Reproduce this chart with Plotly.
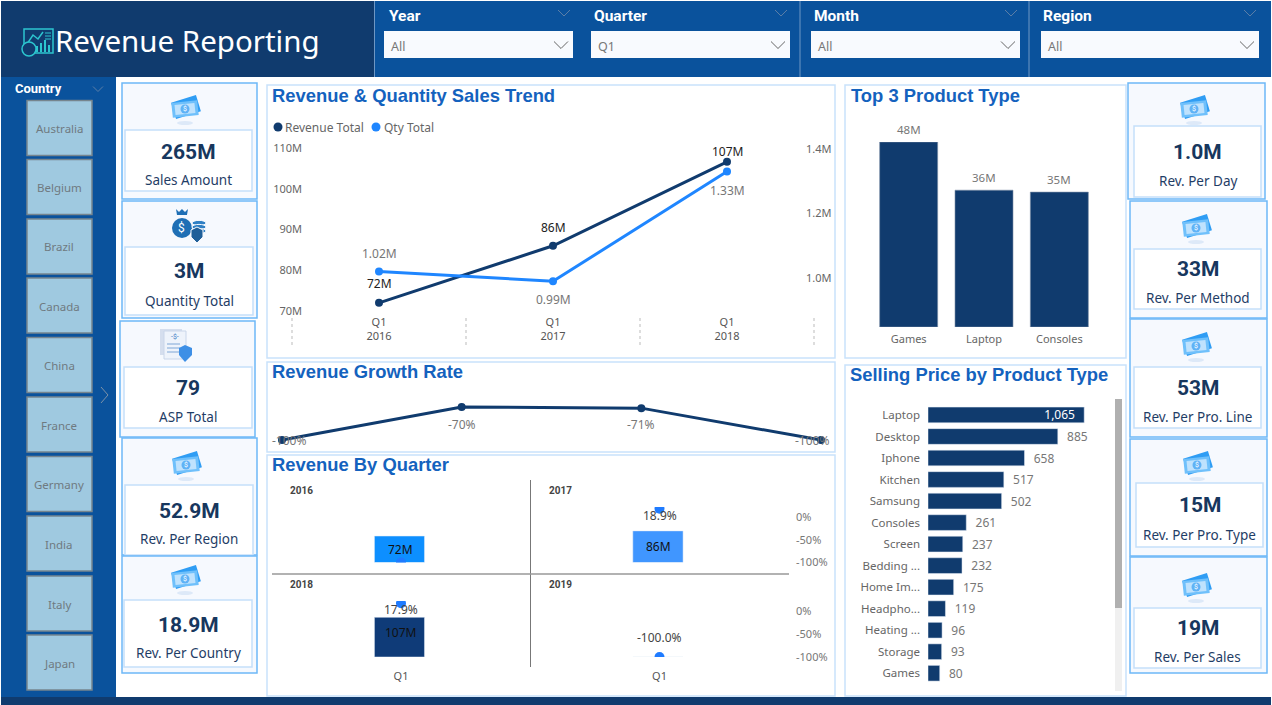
import math
import plotly.graph_objects as go

# ---------- data ----------
countries = ["Australia", "Belgium", "Brazil", "Canada", "China", "France", "Germany", "India", "Italy", "Japan"]
filter_names = ["Year", "Quarter", "Month", "Region"]
filter_values = ["All", "Q1", "All", "All"]
kpi_left_values = ["265M", "3M", "79", "52.9M", "18.9M"]
kpi_left_names = ["Sales Amount", "Quantity Total", "ASP Total", "Rev. Per Region", "Rev. Per Country"]
kpi_right_values = ["1.0M", "33M", "53M", "15M", "19M"]
kpi_right_names = ["Rev. Per Day", "Rev. Per Method", "Rev. Per Pro. Line", "Rev. Per Pro. Type", "Rev. Per Sales"]

trend_periods = ["Q1<br>2016", "Q1<br>2017", "Q1<br>2018"]
trend_revenue = [72, 86, 106.6]
trend_qty = [1.02, 0.99, 1.33]
left_ticks = [70, 80, 90, 100, 110]
right_ticks = [1.0, 1.2, 1.4]

growth_years = ["2016", "2017", "2018", "2019"]
growth_rate = [-100, -70, -71, -100]

quarter_years = ["2016", "2017", "2018", "2019"]
quarter_revenue = [72, 86, 107, 0]
quarter_change = [-100, 18.9, 17.9, -100]
quarter_colors = ["#0D8FFF", "#4096FF", "#0F3B78", "#0F3B78"]

top3_types = ["Games", "Laptop", "Consoles"]
top3_values = [48, 35.5, 35]
top3_labels = ["48M", "36M", "35M"]

price_types = ["Laptop", "Desktop", "Iphone", "Kitchen", "Samsung", "Consoles", "Screen",
               "Bedding ...", "Home Im...", "Headpho...", "Heating ...", "Storage", "Games"]
price_values = [1065, 885, 658, 517, 502, 261, 237, 232, 175, 119, 96, 93, 80]

# ---------- palette / helpers ----------
W, H = 1272, 705
NAVY = "#103B6E"
BLUE = "#0A529C"
QTY = "#1F86FF"
TITLE = "#1462BE"
GRAY = "#666666"
BODY = "Noto Sans"
BOLD = "Roboto"
HEAD = "Liberation Sans"
NARROW = "Liberation Sans Narrow, Roboto"


def fx(x):
    return x / W


def fy(y):
    return 1 - y / H


def dx(a, b):
    return [a / W, b / W]


def dy(top, bottom):
    return [1 - bottom / H, 1 - top / H]


shapes = []
notes = []


def rect(x0, y0, x1, y1, fill=None, line=None, lw=1):
    shapes.append(dict(type="rect", xref="paper", yref="paper", x0=fx(x0), x1=fx(x1), y0=fy(y1), y1=fy(y0),
                       fillcolor=fill or "rgba(0,0,0,0)", line=dict(color=line or "rgba(0,0,0,0)", width=lw if line else 0),
                       layer="below"))


def oval(cx, cy, rx, ry, fill=None, line=None, lw=1):
    shapes.append(dict(type="circle", xref="paper", yref="paper", x0=fx(cx - rx), x1=fx(cx + rx), y0=fy(cy + ry), y1=fy(cy - ry),
                       fillcolor=fill or "rgba(0,0,0,0)", line=dict(color=line or "rgba(0,0,0,0)", width=lw if line else 0),
                       layer="below"))


def poly(points, fill=None, line=None, lw=1, close=True, dash=None):
    d = "M " + " L ".join(f"{fx(a):.5f},{fy(b):.5f}" for a, b in points) + (" Z" if close else "")
    ln = dict(color=line or "rgba(0,0,0,0)", width=lw if line else 0)
    if dash:
        ln["dash"] = dash
    shapes.append(dict(type="path", xref="paper", yref="paper", path=d,
                       fillcolor=fill or "rgba(0,0,0,0)", line=ln, layer="below"))


def seg(x0, y0, x1, y1, color, lw=1, dash=None):
    ln = dict(color=color, width=lw)
    if dash:
        ln["dash"] = dash
    shapes.append(dict(type="line", xref="paper", yref="paper", x0=fx(x0), x1=fx(x1), y0=fy(y0), y1=fy(y1), line=ln, layer="below"))


def chevron(cx, cy, w, h, color, lw=1):
    poly([(cx - w, cy - h), (cx, cy + h), (cx + w, cy - h)], line=color, lw=lw, close=False)


def note(text, x, y, size, color, family=BODY, anchor="center"):
    notes.append(dict(text=text, x=fx(x), y=fy(y), xref="paper", yref="paper", showarrow=False, xanchor=anchor,
                      yanchor="middle", font=dict(size=size, color=color, family=family), borderpad=0))


def tilted(cx, cy, w, h, deg):
    a = math.radians(deg)
    pts = []
    for sx, sy in [(-1, -1), (1, -1), (1, 1), (-1, 1)]:
        px, py = sx * w / 2, sy * h / 2
        pts.append((cx + px * math.cos(a) - py * math.sin(a), cy + px * math.sin(a) + py * math.cos(a)))
    return pts


def money(cx, cy):
    oval(cx, cy + 15, 8, 2, fill="#DDE9F8")
    poly(tilted(cx + 1, cy - 1, 26, 17, -17), fill="#2F9DF4")
    poly(tilted(cx, cy + 1, 26, 15, -6), fill="#6FC0FB")
    poly(tilted(cx, cy + 1, 20, 10, -6), fill="#BFE2FD")
    oval(cx, cy + 1, 4.5, 4.5, fill="#5FB2F6")
    note("$", cx, cy + 1, 7, "#FFFFFF", BOLD)


def bag(cx, cy):
    # cx, cy is the centre of the whole icon
    oval(cx - 8, cy + 2, 10, 10, fill="#1F6FB5")
    poly([(cx - 14, cy - 17), (cx - 11, cy - 14), (cx - 8, cy - 17), (cx - 5, cy - 14), (cx - 2, cy - 17),
          (cx - 3, cy - 11), (cx - 13, cy - 11)], fill="#1F6FB5")
    note("$", cx - 9, cy + 2, 12, "#FFFFFF", BOLD)
    for i in range(3):
        oval(cx + 9, cy - 3 + i * 4, 7, 2.6, fill="#2F80C4", line="#F6F9FE")
    poly([(cx + 1, cy + 4), (cx + 7, cy + 1), (cx + 13, cy + 4), (cx + 13, cy + 11), (cx + 7, cy + 17), (cx + 1, cy + 11)],
         fill="#1F5F99", line="#F6F9FE")


def document(cx, cy):
    rect(cx - 16, cy - 16, cx + 6, cy + 10, fill="#D5DEEE")
    rect(cx - 12, cy - 14, cx + 10, cy + 14, fill="#EEF3FB", line="#C9D6EA")
    note("-$-", cx - 1, cy - 8, 7, "#3F7CC4", BOLD)
    for i in range(3):
        seg(cx - 9, cy - 1 + i * 4, cx + 4, cy - 1 + i * 4, "#7FA6D6", 1)
    poly([(cx + 3, cy + 3), (cx + 9, cy), (cx + 16, cy + 3), (cx + 16, cy + 10), (cx + 9, cy + 17), (cx + 3, cy + 10)], fill="#3D8FE6")


def logo():
    c = "#2CC5CF"
    poly([(24, 29), (53, 29), (53, 53), (24, 53)], line=c, lw=1.5)
    poly([(27, 44), (33, 35), (38, 39), (43, 32)], line=c, lw=1.5, close=False)
    for a, b in [(37, 46), (41, 43), (45, 40), (49, 45)]:
        seg(a, 52, a, b, c, 2)
    oval(29, 49, 7, 7, fill=NAVY, line=c, lw=1.5)
    for i in range(3):
        seg(45, 33 + i * 3, 51, 33 + i * 3, c, 1)


# ---------- page chrome ----------
rect(1, 1, 375, 77, fill=NAVY)
rect(375, 1, 1271, 77, fill=BLUE)
rect(1, 77, 116, 697, fill=BLUE)
rect(1, 697, 1271, 705, fill=NAVY)
for x in (374.5, 800, 1029):
    seg(x, 1, x, 77, "#6E97C4", 1)
logo()
note("Revenue Reporting", 54, 41, 29.5, "#FFFFFF", BODY, "left")

filter_label_x = [388, 593, 813, 1042]
filter_box = [(384, 573), (591, 790), (811, 1020), (1041, 1259)]
for name, value, lx, (b0, b1) in zip(filter_names, filter_values, filter_label_x, filter_box):
    note(f"<b>{name}</b>", lx, 16, 15.5, "#FFFFFF", NARROW, "left")
    rect(b0, 31, b1, 58, fill="#F8FAFE")
    note(value, b0 + 6, 46.5, 12.5, "#777777", BODY, "left")
    chevron(b1 - 12, 45, 7, 3.5, "#666666", 1)
    chevron(b1 - 9, 13, 6, 3, "#5C7FA8", 1)

note("<b>Country</b>", 14, 89, 13, "#FFFFFF", NARROW, "left")
chevron(98, 89, 5, 2.5, "#5C7FA8", 1)
tile_tops = [100.5, 159.5, 219, 278, 337.5, 397, 456.5, 516, 576, 635]
for name, t in zip(countries, tile_tops):
    rect(27, t, 92, t + 55, fill="#9FC9E0", line="#76858E", lw=1.5)
    note(name, 59.5, t + 28, 11.5, "#6F7A80")
poly([(101, 387), (108, 395), (101, 403)], line="#7F93A8", lw=1, close=False)

# ---------- KPI tiles ----------
left_boxes = [(122, 83, 257, 199, 125, 130, 252, 191, 152, 180, 185, 108),
              (122, 201, 257, 318, 125, 247, 253, 315, 271, 301, 190, 226),
              (120, 321, 255, 437, 124, 367, 252, 428, 388, 417, 176, 345),
              (122, 438, 257, 555, 125, 485, 253, 555, 511, 539, 186, 464),
              (122, 556, 257, 673, 124, 600, 252, 667, 625, 653, 185, 578)]
right_boxes = [(1128, 83, 1265, 199, 1134, 126, 1261, 197, 152, 181, 1194, 108),
               (1130, 201, 1267, 318, 1134, 249, 1261, 309, 269, 298, 1196, 227),
               (1130, 319, 1267, 437, 1134, 367, 1261, 428, 388, 417, 1196, 345),
               (1130, 439, 1267, 556, 1136, 483, 1263, 547, 505, 535, 1197, 464),
               (1130, 557, 1267, 673, 1134, 608, 1261, 668, 628, 657, 1196, 586)]
all_values = kpi_left_values + kpi_right_values
all_names = kpi_left_names + kpi_right_names
for i, (value, name, b) in enumerate(zip(all_values, all_names, left_boxes + right_boxes)):
    x0, y0, x1, y1, ix0, iy0, ix1, iy1, vy, ly, icx, icy = b
    rect(x0, y0, x1, y1, fill="#F6F9FE", line="#6DB8F7", lw=1.5)
    rect(ix0, iy0, ix1, iy1, fill="#FFFFFF", line="#C5E0FA", lw=1.5)
    cx = (ix0 + ix1) / 2
    note(f"<b>{value}</b>", cx, vy, 21, "#17375E", NARROW)
    note(name, cx, ly, 13.5, "#1F3D66", BODY)
    if i == 1:
        bag(icx, icy)
    elif i == 2:
        document(icx, icy)
    else:
        money(icx, icy)

# ---------- chart panels ----------
PANEL = "#C9E2FB"
for x0, y0, x1, y1 in [(267, 85, 835, 358), (845, 85, 1126, 358), (267, 362, 835, 452), (267, 455, 835, 696), (845, 365, 1126, 696)]:
    rect(x0, y0, x1, y1, fill="#FFFFFF", line=PANEL, lw=1.5)
note("<b>Revenue &amp; Quantity Sales Trend</b>", 271, 96, 18.4, TITLE, HEAD, "left")
note("<b>Top 3 Product Type</b>", 850, 96, 18.4, TITLE, HEAD, "left")
note("<b>Revenue Growth Rate</b>", 271, 371, 18.4, TITLE, HEAD, "left")
note("<b>Revenue By Quarter</b>", 271, 465, 18.4, TITLE, HEAD, "left")
note("<b>Selling Price by Product Type</b>", 849, 374, 18.4, TITLE, HEAD, "left")

# legend keys of the trend chart
oval(278, 127, 4.5, 4.5, fill=NAVY)
note("Revenue Total", 284, 127, 12, GRAY, BODY, "left")
oval(376, 127, 4.5, 4.5, fill=QTY)
note("Qty Total", 383, 127, 12, GRAY, BODY, "left")
for x in (292, 466, 640, 814):
    seg(x, 318, x, 346, "#BBBBBB", 1, "dot")

# scroll bar of the price chart
rect(1115, 399, 1122, 691, fill="#F0F0F0")
rect(1115, 399, 1122, 608, fill="#B0B0B0")

# small-multiple separators
seg(530.5, 480, 530.5, 667, "#777777", 1)
seg(272, 574, 789, 574, "#999999", 1.5)

fig = go.Figure()
axes = {}


def hidden(**kw):
    d = dict(visible=False, fixedrange=True, showgrid=False, zeroline=False)
    d.update(kw)
    return d


# --- trend ---
axes["xaxis"] = dict(domain=dx(292, 814), range=[-0.5, 2.5], type="category", categoryorder="array", categoryarray=trend_periods,
                     showgrid=False, zeroline=False, showline=False, ticks="", anchor="y", ticklabelstandoff=3,
                     tickfont=dict(size=11, color="#555555", family=BODY))
axes["yaxis"] = dict(domain=dy(148, 311), range=[70, 110], tickvals=left_ticks, ticktext=[f"{v}M" for v in left_ticks],
                     showgrid=False, zeroline=False, anchor="free", position=fx(302),
                     tickfont=dict(size=11, color=GRAY, family=BODY))
axes["yaxis2"] = dict(domain=dy(148, 311), range=[0.8977, 1.4031], tickvals=right_ticks, ticktext=[f"{v:.1f}M" for v in right_ticks],
                      showgrid=False, zeroline=False, side="right", anchor="free", position=fx(805), overlaying="y",
                      tickfont=dict(size=11, color=GRAY, family=BODY))
fig.add_trace(go.Scatter(x=trend_periods, y=trend_revenue, mode="lines+markers", name="Revenue Total", xaxis="x", yaxis="y",
                         line=dict(color=NAVY, width=3), marker=dict(size=8, color=NAVY), cliponaxis=False))
fig.add_trace(go.Scatter(x=trend_periods, y=trend_qty, mode="lines+markers", name="Qty Total", xaxis="x", yaxis="y2",
                         line=dict(color=QTY, width=3), marker=dict(size=8, color=QTY), cliponaxis=False))
for cat, v, sh in zip(trend_periods, trend_revenue, (19, 18, 10)):
    notes.append(dict(text=f"{v:.0f}M", x=cat, y=v, xref="x", yref="y", yshift=sh, showarrow=False,
                      font=dict(size=12, color="#222222", family=BODY)))
for cat, v, sh in zip(trend_periods, trend_qty, (18, -18, -19)):
    notes.append(dict(text=f"{v:.2f}M", x=cat, y=v, xref="x", yref="y2", yshift=sh, showarrow=False,
                      font=dict(size=12, color="#777777", family=BODY)))

# --- growth ---
axes["xaxis2"] = hidden(domain=dx(273, 830), range=[-0.05, 3.05], type="category", categoryorder="array",
                        categoryarray=growth_years, anchor="y3")
axes["yaxis3"] = hidden(domain=dy(400, 445), range=[-104.5, -63.6], anchor="x2")
fig.add_trace(go.Scatter(x=growth_years, y=growth_rate, mode="lines+markers", name="Growth", xaxis="x2", yaxis="y3",
                         line=dict(color=NAVY, width=3), marker=dict(size=8, color=NAVY), cliponaxis=False))
for idx, v, sx, sy in zip(range(len(growth_years)), growth_rate, (7, 0, 0, -9), (0, -17, -16, 0)):
    notes.append(dict(text=f"{v}%", x=idx, y=v, xref="x2", yref="y3", xshift=sx, yshift=sy, showarrow=False,
                      font=dict(size=12, color="#777777", family=BODY)))

# --- revenue by quarter (four small multiples) ---
panels = [((272, 530), (507, 562.5), 3, 4), ((530, 789), (507, 562.5), 4, 6), ((272, 530), (601, 657), 5, 8), ((530, 789), (601, 657), 6, 10)]
label_shift = [None, -7, -6, 20]
for i, (xd, yd, xn, yn) in enumerate(panels):
    bottom_row = i >= 2
    right_col = i % 2 == 1
    xname, ybar, ypct = f"x{xn}", f"y{yn}", f"y{yn + 1}"
    axes[f"xaxis{xn}"] = dict(domain=dx(*xd), type="category", range=[-0.5, 0.5], anchor=ybar, showgrid=False, zeroline=False, ticks="",
                              showticklabels=bottom_row, ticklabelstandoff=11, tickfont=dict(size=11, color="#555555", family=BODY))
    axes[f"yaxis{yn}"] = hidden(domain=dy(*yd), range=[0, 151], anchor=xname)
    axes[f"yaxis{yn + 1}"] = dict(domain=dy(*yd), range=[-100, 22.6], overlaying=ybar, showgrid=False, zeroline=False,
                                  visible=right_col, side="right", anchor="free", position=fx(793),
                                  tickvals=[0, -50, -100], ticktext=["0%", "-50%", "-100%"], ticklabelstandoff=2,
                                  tickfont=dict(size=11, color="#777777", family=BODY))
    fig.add_trace(go.Bar(x=["Q1"], y=[quarter_revenue[i]], width=[0.194], offset=-0.103, xaxis=xname, yaxis=ybar, name=quarter_years[i],
                         marker=dict(color=quarter_colors[i])))
    fig.add_trace(go.Scatter(x=["Q1"], y=[quarter_change[i]], mode="markers", xaxis=xname, yaxis=ypct, name=quarter_years[i],
                             marker=dict(size=10, color="#1F7BFF")))
    note(f"<b>{quarter_years[i]}</b>", xd[0] + (17 if not right_col else 18), 584 if bottom_row else 490, 10, "#444444", BOLD, "left")
    if quarter_revenue[i]:
        notes.append(dict(text=f"{quarter_revenue[i]}M", x="Q1", y=quarter_revenue[i] / 2, xref=xname, yref=ybar,
                          xshift=-1, yshift=5 if i == 2 else 0, showarrow=False, font=dict(size=12, color="#111111", family=BODY)))
    if label_shift[i] is not None:
        notes.append(dict(text=f"{quarter_change[i]:.1f}%", x="Q1", y=quarter_change[i], xref=xname, yref=ypct,
                          yshift=label_shift[i], showarrow=False, font=dict(size=12, color="#444444", family=BODY)))

# --- top 3 ---
axes["xaxis7"] = dict(domain=dx(871, 1097), type="category", anchor="y12", showgrid=False, zeroline=False, ticks="", ticklabelstandoff=4,
                      tickfont=dict(size=11, color=GRAY, family=BODY))
axes["yaxis12"] = hidden(domain=dy(142, 327), range=[0, 48], anchor="x7")
fig.add_trace(go.Bar(x=top3_types, y=top3_values, width=0.77, xaxis="x7", yaxis="y12", name="Top 3", cliponaxis=False,
                     marker=dict(color=NAVY, line=dict(color="#7C8FA6", width=0.6))))
for cat, v, lab in zip(top3_types, top3_values, top3_labels):
    notes.append(dict(text=lab, x=cat, y=v, xref="x7", yref="y12", yshift=13, showarrow=False,
                      font=dict(size=11.5, color="#777777", family=BODY)))

# --- selling price ---
axes["xaxis8"] = hidden(domain=dx(928, 1104), range=[0, 1200], anchor="y13")
axes["yaxis13"] = dict(domain=dy(404.2, 684), type="category", categoryorder="array", categoryarray=price_types, range=[12.5, -0.5],
                       anchor="x8", showgrid=False, zeroline=False, ticks="", ticklabelstandoff=7,
                       tickfont=dict(size=11.5, color=GRAY, family=BODY))
price_labels = [f"{v:,}\u00a0\u00a0" if v > 1000 else f"\u00a0\u00a0{v}" for v in price_values]
fig.add_trace(go.Bar(x=price_values, y=price_types, orientation="h", width=0.73, xaxis="x8", yaxis="y13", name="Selling price",
                     text=price_labels, texttemplate="%{text}",
                     textposition=["inside" if v > 1000 else "outside" for v in price_values], insidetextanchor="end",
                     constraintext="none", cliponaxis=False,
                     insidetextfont=dict(size=12, color="#FFFFFF", family=BODY),
                     outsidetextfont=dict(size=12, color="#777777", family=BODY),
                     marker=dict(color=NAVY)))

for a in axes.values():
    a["automargin"] = False

fig.update_layout(width=W, height=H, margin=dict(l=0, r=0, t=0, b=0), autosize=False, showlegend=False, barmode="overlay",
                  paper_bgcolor="#FFFFFF", plot_bgcolor="rgba(0,0,0,0)", shapes=shapes, annotations=notes,
                  font=dict(family=BODY), **axes)

fig.write_html("out.html", post_script="document.body.style.margin='0';document.body.style.overflow='hidden';",
               config=dict(displayModeBar=False))
